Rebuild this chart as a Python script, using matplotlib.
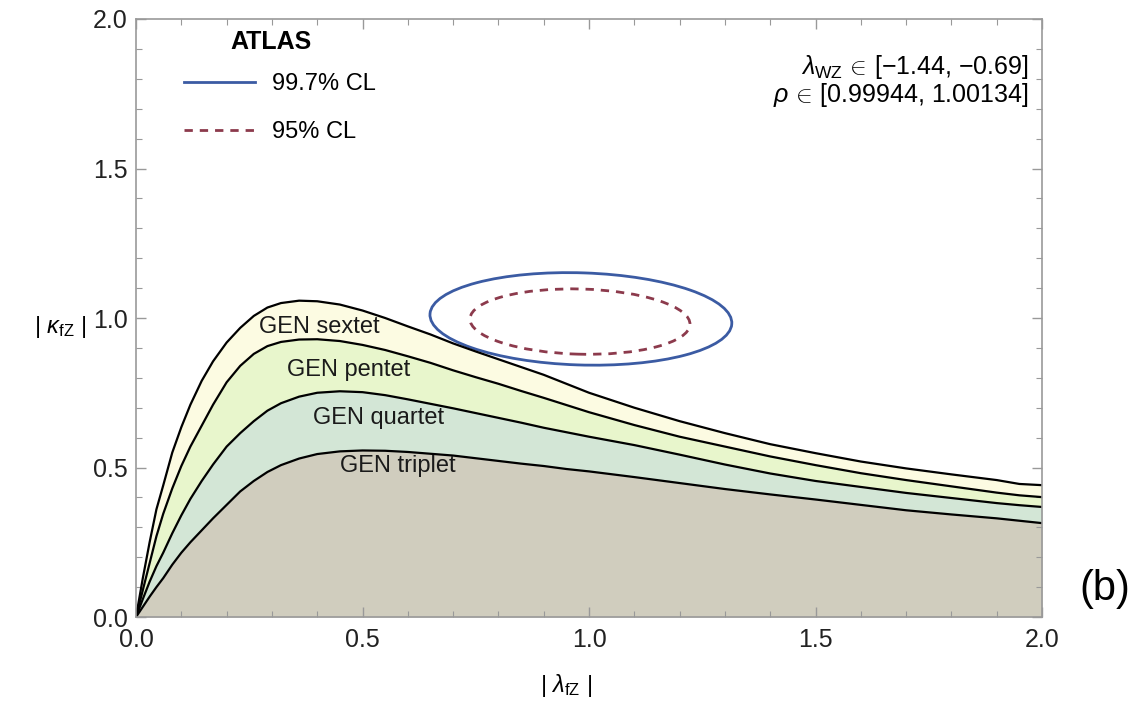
import numpy as np
import matplotlib.pyplot as plt
from matplotlib.patches import Ellipse
from matplotlib.lines import Line2D

plt.rcParams['font.family'] = ['Liberation Sans', 'DejaVu Sans']
plt.rcParams['mathtext.fontset'] = 'custom'
plt.rcParams['mathtext.rm'] = 'Liberation Sans'
plt.rcParams['mathtext.it'] = 'Liberation Sans:italic'

# |lambda_fZ| grid and the four GEN boundaries
lam = [0, 0.015, 0.03, 0.045, 0.06, 0.08, 0.1, 0.12, 0.145, 0.17, 0.2, 0.23, 0.26, 0.29,
       0.32, 0.36, 0.4, 0.45, 0.5, 0.55, 0.6, 0.65, 0.7, 0.75, 0.8, 0.85, 0.9, 0.95,
       1.0, 1.1, 1.2, 1.3, 1.4, 1.5, 1.6, 1.7, 1.8, 1.9, 1.95, 2.0]
sextet = [0, 0.13, 0.25, 0.36, 0.44, 0.55, 0.635, 0.71, 0.79, 0.855, 0.918, 0.967, 1.007, 1.035,
          1.05, 1.058, 1.056, 1.045, 1.025, 1.0, 0.972, 0.945, 0.915, 0.888, 0.862, 0.836, 0.81, 0.78,
          0.75, 0.70, 0.655, 0.615, 0.578, 0.548, 0.52, 0.497, 0.477, 0.458, 0.445, 0.441]
pentet = [0, 0.09, 0.18, 0.27, 0.345, 0.43, 0.505, 0.57, 0.64, 0.71, 0.785, 0.84, 0.88, 0.906,
          0.92, 0.928, 0.929, 0.923, 0.91, 0.893, 0.872, 0.85, 0.825, 0.802, 0.78, 0.756, 0.733, 0.709,
          0.685, 0.642, 0.603, 0.57, 0.537, 0.508, 0.481, 0.458, 0.437, 0.416, 0.407, 0.401]
quartet = [0, 0.06, 0.118, 0.17, 0.215, 0.28, 0.34, 0.395, 0.455, 0.51, 0.57, 0.615, 0.655, 0.69,
           0.715, 0.737, 0.75, 0.755, 0.752, 0.742, 0.728, 0.713, 0.698, 0.682, 0.666, 0.65, 0.633, 0.618,
           0.603, 0.575, 0.543, 0.51, 0.48, 0.455, 0.435, 0.415, 0.398, 0.381, 0.374, 0.368]
triplet = [0, 0.034, 0.068, 0.1, 0.13, 0.175, 0.215, 0.25, 0.29, 0.33, 0.375, 0.42, 0.455, 0.485,
           0.508, 0.53, 0.545, 0.554, 0.557, 0.556, 0.552, 0.546, 0.54, 0.531, 0.522, 0.513, 0.505, 0.495,
           0.487, 0.468, 0.448, 0.428, 0.41, 0.393, 0.375, 0.357, 0.343, 0.33, 0.322, 0.314]

# CL ellipses: centre, full width, full height, tilt (deg)
cl997 = dict(xy=(0.982, 0.997), width=0.667, height=0.308, angle=-3.0)
cl95 = dict(xy=(0.980, 0.988), width=0.486, height=0.218, angle=-2.5)

band_labels = ["GEN sextet", "GEN pentet", "GEN quartet", "GEN triplet"]
label_pos = [(0.405, 0.97), (0.47, 0.826), (0.536, 0.666), (0.577, 0.505)]

fig = plt.figure(figsize=(11.45, 7.01), dpi=100)
ax = fig.add_axes([0.1188, 0.1198, 0.7913, 0.8531])

lam = np.array(lam)
ax.fill_between(lam, 0, triplet, color='#d0cdbe', lw=0)
ax.fill_between(lam, triplet, quartet, color='#d3e6d6', lw=0)
ax.fill_between(lam, quartet, pentet, color='#e8f6cc', lw=0)
ax.fill_between(lam, pentet, sextet, color='#fcfbe2', lw=0)
for c in (sextet, pentet, quartet, triplet):
    ax.plot(lam, c, color='black', lw=1.6, solid_joinstyle='round')

ax.add_patch(Ellipse(**cl997, fill=False, ec='#3b5ba3', lw=2.0))
ax.add_patch(Ellipse(**cl95, fill=False, ec='#8c3a4c', lw=2.0, ls=(0, (3, 2.5))))

for t, (x, y) in zip(band_labels, label_pos):
    ax.text(x, y, t, fontsize=17, ha='center', va='center', color='#1a1a1a')

ax.set_xlim(0, 2)
ax.set_ylim(0, 2)
ax.set_xticks([0, 0.5, 1.0, 1.5, 2.0])
ax.set_yticks([0, 0.5, 1.0, 1.5, 2.0])
ax.set_xticklabels(['0.0', '0.5', '1.0', '1.5', '2.0'])
ax.set_yticklabels(['0.0', '0.5', '1.0', '1.5', '2.0'])
ax.set_xticks(np.arange(0, 2.01, 0.1), minor=True)
ax.set_yticks(np.arange(0, 2.01, 0.1), minor=True)
ax.tick_params(which='both', direction='in', top=True, right=True, color='#999999',
               labelsize=18, labelcolor='#222222')
ax.tick_params(which='major', length=7, width=1)
ax.tick_params(which='minor', length=4, width=0.8)
ax.tick_params(axis='x', pad=8)
ax.tick_params(axis='y', pad=6)
for s in ax.spines.values():
    s.set_color('#999999')
    s.set_linewidth(1.2)

# legend
ax.text(0.149, 0.9615, 'ATLAS', transform=ax.transAxes, ha='center', va='center',
        fontsize=18, fontweight='bold')
handles = [Line2D([], [], color='#3b5ba3', lw=2.0),
           Line2D([], [], color='#8c3a4c', lw=2.0, ls=(0, (3, 2.5)))]
ax.legend(handles, ['99.7% CL', '95% CL'], loc='upper left', frameon=False,
          fontsize=17, handlelength=3.0, labelspacing=1.1,
          bbox_to_anchor=(0.03, 0.945), handletextpad=0.7)

ax.text(0.985, 0.92, r'$\lambda_{\rm WZ}\,\in\,$[$-$1.44, $-$0.69]', transform=ax.transAxes,
        ha='right', va='center', fontsize=18)
ax.text(0.985, 0.873, r'$\rho\,\in\,$[0.99944, 1.00134]', transform=ax.transAxes,
        ha='right', va='center', fontsize=18)

fig.text(0.053, 0.533, r'| $\kappa_{\rm fZ}$ |', fontsize=17, ha='center', va='center')
fig.text(0.494, 0.022, r'| $\lambda_{\rm fZ}$ |', fontsize=17, ha='center', va='center')
fig.text(0.965, 0.16, '(b)', fontsize=30, ha='center', va='center', fontstretch='condensed')

fig.savefig('out.png', dpi=100)
